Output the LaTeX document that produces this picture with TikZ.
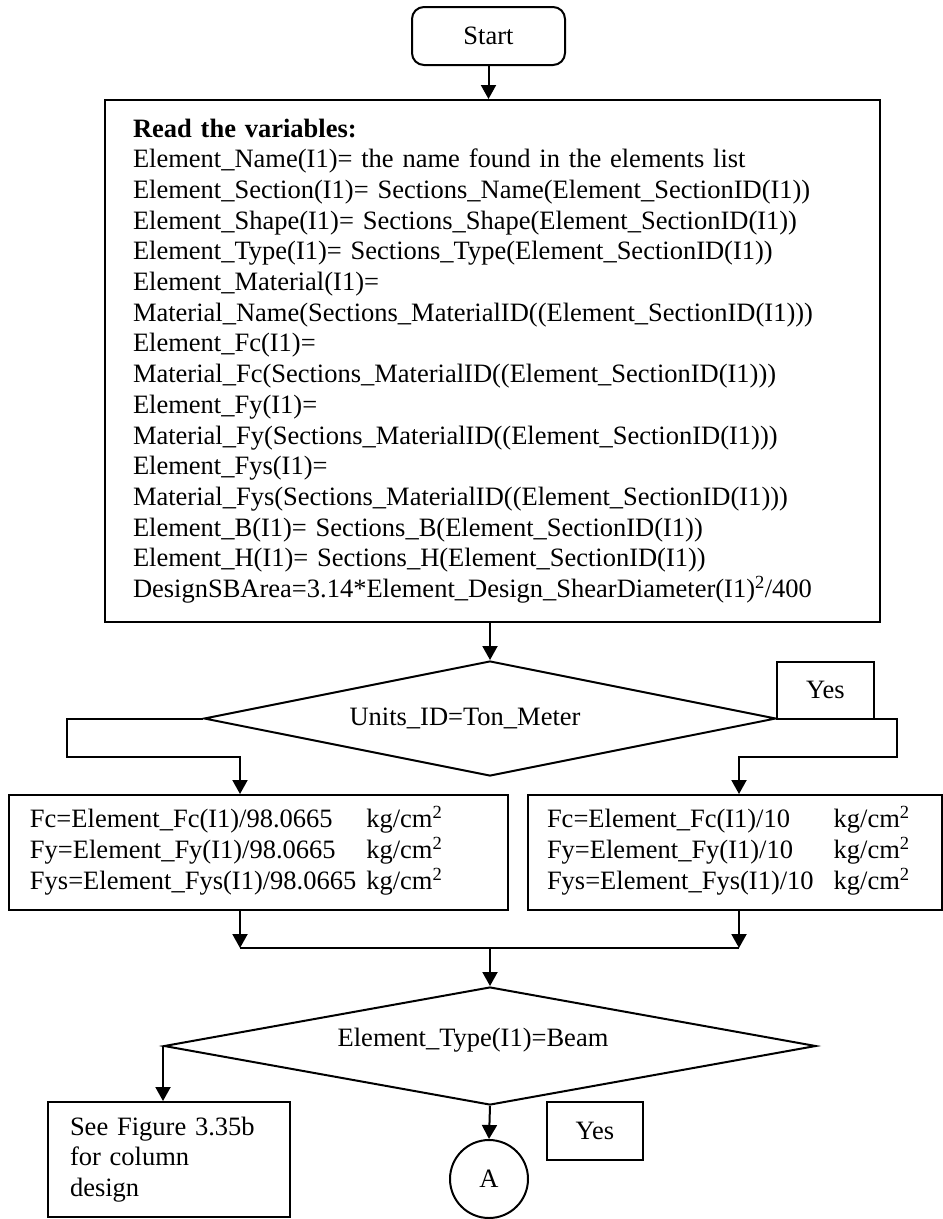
\documentclass[tikz,border=0pt]{standalone}
\usepackage{fontspec}
\setmainfont{Liberation Serif}
\usetikzlibrary{arrows.meta,shapes.geometric}
\begin{document}
\begin{tikzpicture}[x=1pt,y=-1pt,
  every node/.style={font=\fontsize{26.5}{30.7}\selectfont, inner sep=0pt},
  box/.style={draw, line width=2pt, rectangle},
  dia/.style={draw, line width=2pt, diamond, inner sep=0pt},
  arr/.style={line width=2pt, -{Triangle[length=14pt,width=15pt]}},
  ln/.style={line width=2pt},
]
\useasboundingbox (0,0) rectangle (943,1219);

\node[box, rounded corners=12pt, minimum width=153pt, minimum height=58pt] (start) at (488.5,36) {Start};

\node[box, minimum width=775pt, minimum height=522pt, text width=719pt, inner xsep=28pt, align=left] (read) at (492.5,361) {\textbf{Read the variables:}\\
Element\_Name(I1)= the name found in the elements list\\
Element\_Section(I1)= Sections\_Name(Element\_SectionID(I1))\\
Element\_Shape(I1)= Sections\_Shape(Element\_SectionID(I1))\\
Element\_Type(I1)= Sections\_Type(Element\_SectionID(I1))\\
Element\_Material(I1)=\\
Material\_Name(Sections\_MaterialID((Element\_SectionID(I1)))\\
Element\_Fc(I1)=\\
Material\_Fc(Sections\_MaterialID((Element\_SectionID(I1)))\\
Element\_Fy(I1)=\\
Material\_Fy(Sections\_MaterialID((Element\_SectionID(I1)))\\
Element\_Fys(I1)=\\
Material\_Fys(Sections\_MaterialID((Element\_SectionID(I1)))\\
Element\_B(I1)= Sections\_B(Element\_SectionID(I1))\\
Element\_H(I1)= Sections\_H(Element\_SectionID(I1))\\
DesignSBArea=3.14*Element\_Design\_ShearDiameter(I1)\textsuperscript{2}/400};

\node[dia, minimum width=572pt, minimum height=115pt] (d1) at (490,718.5) {};
\node (t1) at (465,718) {Units\_ID=Ton\_Meter};
\node[box, minimum width=97pt, minimum height=57pt] (yes1) at (825.5,690) {Yes};

\node[box, minimum height=115pt, text width=457pt, inner xsep=21pt, align=left] (lbox) at (258.5,852.5) {\begin{tabular}{@{}l@{\hspace{10pt}}l@{}}
Fc=Element\_Fc(I1)/98.0665 & kg/cm\textsuperscript{2}\\
Fy=Element\_Fy(I1)/98.0665 & kg/cm\textsuperscript{2}\\
Fys=Element\_Fys(I1)/98.0665 & kg/cm\textsuperscript{2}
\end{tabular}};
\node[box, minimum height=115pt, text width=376pt, inner xsep=19pt, align=left] (rbox) at (735,852.5) {\begin{tabular}{@{}l@{\hspace{20pt}}l@{}}
Fc=Element\_Fc(I1)/10 & kg/cm\textsuperscript{2}\\
Fy=Element\_Fy(I1)/10 & kg/cm\textsuperscript{2}\\
Fys=Element\_Fys(I1)/10 & kg/cm\textsuperscript{2}
\end{tabular}};

\node[dia, minimum width=652pt, minimum height=118pt] (d2) at (490,1046) {};
\node (t2) at (473,1040) {Element\_Type(I1)=Beam};

\node[box, minimum height=115pt, text width=198pt, inner xsep=22pt, align=left] (see) at (169,1159.5) {See Figure 3.35b\\ for column\\ design};
\node[draw, circle, line width=2pt, minimum size=78pt] (A) at (489,1179) {A};
\node[box, minimum width=96pt, minimum height=58pt] (yes2) at (595,1131) {Yes};

\coordinate (la) at (67,718.5);
\coordinate (lb) at (67,757);
\coordinate (lc) at (240,757);
\coordinate (ra) at (897,718.5);
\coordinate (rb) at (897,757);
\coordinate (rc) at (739,757);
\coordinate (m1) at (240,948);
\coordinate (m2) at (739,948);
\coordinate (m3) at (490,948);

\draw[arr] (start.south) -- (start.south |- read.north);
\draw[arr] (d1.north |- read.south) -- (d1.north);
\draw[arr] (d1.west) -- (la) -- (lb) -- (lc) -- (lc |- lbox.north);
\draw[arr] (d1.east) -- (ra) -- (rb) -- (rc) -- (rc |- rbox.north);
\draw[arr] (lbox.south -| m1) -- (m1);
\draw[arr] (rbox.south -| m2) -- (m2);
\draw[ln] (m1) -- (m2);
\draw[arr] (m3) -- (d2.north);
\draw[arr] (d2.west) -- (d2.west |- see.north);
\draw[arr] (d2.south) -- (A.north);
\end{tikzpicture}
\end{document}
